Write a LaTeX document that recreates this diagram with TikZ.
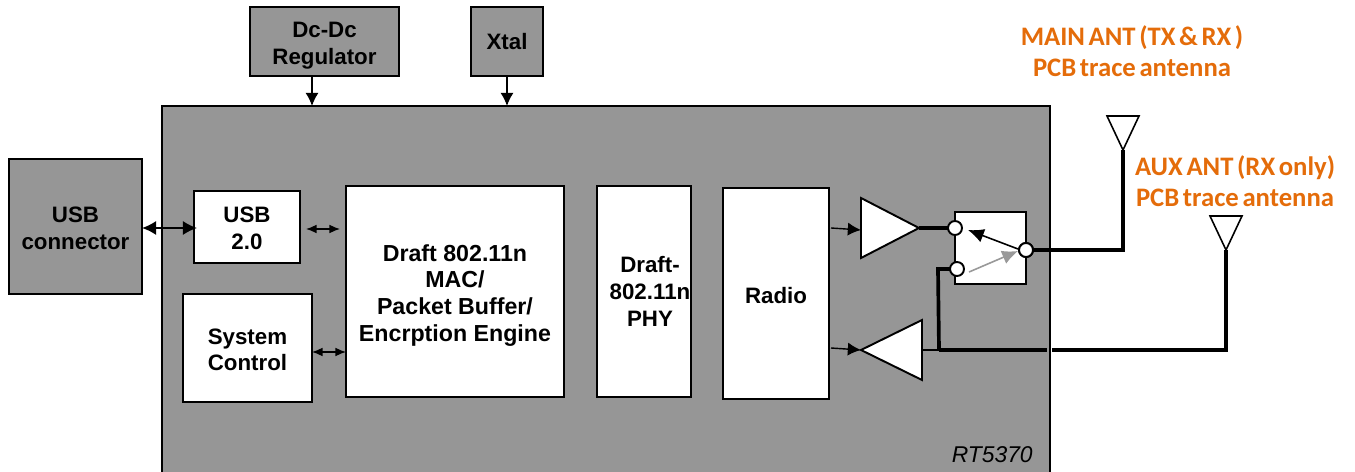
\documentclass[tikz,border=0pt]{standalone}
\usepackage{fontspec}
\usepackage{xcolor}
\setmainfont{Liberation Sans}
\newfontfamily\antfont[WordSpace=0.6]{Carlito}
\usetikzlibrary{shapes.geometric, arrows.meta}
\definecolor{chipgray}{HTML}{969696}
\definecolor{antorange}{HTML}{E46C0A}
\newcommand{\lowr}[1]{\rule{0pt}{#1}}
\tikzset{
    block/.style={draw, line width=1.1pt, fill=white, anchor=north west, align=center, inner sep=0pt, outer sep=0pt,
        font=\fontsize{12.7}{15.2}\selectfont\bfseries},
    grayblock/.style={block, fill=chipgray},
    amp/.style={draw, line width=1.1pt, fill=white, isosceles triangle, isosceles triangle stretches, inner sep=0pt, outer sep=0pt, minimum width=1.2cm, minimum height=1.16cm},
    ant/.style={draw, line width=0.9pt, fill=white, isosceles triangle, isosceles triangle stretches, shape border rotate=-90, inner sep=0pt, outer sep=0pt, minimum width=0.64cm, minimum height=0.68cm},
    port/.style={circle, draw, line width=1.1pt, fill=white, inner sep=0pt, outer sep=0pt, minimum size=0.28cm},
    trace/.style={line width=2.1pt},
    antlabel/.style={text=antorange, align=center, font=\antfont\fontsize{15.2}{17.4}\selectfont\bfseries},
    sig/.style={line width=0.8pt, -{Latex[length=7.5pt,width=7.5pt]}},
    bus/.style={line width=0.8pt, {Latex[length=6pt,width=5pt]}-{Latex[length=6pt,width=5pt]}}
}
\begin{document}
\begin{tikzpicture}[x=0.02cm, y=-0.02cm]
\useasboundingbox (0,0) rectangle (1355,472);

% Chip outline
\node[fill=chipgray, anchor=north west, inner sep=0pt, outer sep=0pt, minimum width=17.76cm, minimum height=7.32cm] (chip) at (162,106) {};
\draw[line width=1.1pt] (chip.south west) |- (chip.north east) -- (chip.south east);
\node[anchor=east, inner sep=0pt, font=\fontsize{13}{14}\selectfont\itshape] (chipname) at (1033,455) {RT5370};

% Outside blocks
\node[grayblock, minimum width=2.66cm, minimum height=2.7cm] (usbconn) at (9,159) {\lowr{11pt}USB\\connector};
\node[grayblock, minimum width=2.98cm, minimum height=1.38cm] (regulator) at (250,7) {\lowr{13.5pt}Dc-Dc\\Regulator};
\node[grayblock, minimum width=1.44cm, minimum height=1.38cm] (xtal) at (471,7) {Xtal};

% Inside blocks
\node[block, minimum width=2.12cm, minimum height=1.44cm] (usbcore) at (194,191) {\lowr{10.5pt}USB\\2.0};
\node[block, minimum width=2.58cm, minimum height=2.16cm] (sysctrl) at (183,294) {\lowr{11pt}System\\Control};
\node[block, minimum width=4.36cm, minimum height=4.22cm, font=\fontsize{13.2}{15.2}\selectfont\bfseries] (mac) at (346,186) {\lowr{14pt}Draft 802.11n\\MAC/\\Packet Buffer/\\Encrption Engine};
\node[block, minimum width=1.88cm, minimum height=4.22cm] (phy) at (597,186) {\hspace*{0.24cm}Draft-\\\hspace*{0.24cm}802.11n\\\hspace*{0.24cm}PHY};
\node[block, minimum width=2.12cm, minimum height=4.22cm] (radio) at (723,188) {\lowr{11pt}Radio};

% Amplifiers
\node[amp, anchor=apex] (txamp) at (919,228) {};
\node[amp, anchor=apex, minimum height=1.22cm, shape border rotate=180] (rxamp) at (861,350) {};

% Switch
\node[draw, line width=1.1pt, fill=white, anchor=north west, inner sep=0pt, outer sep=0pt, minimum width=1.42cm, minimum height=1.44cm] (switch) at (955,212) {};
\node[port] (swtx) at (955,228) {};
\node[port] (swrx) at (957,269) {};
\node[port] (swant) at (1026,250) {};

% Antennas
\node[ant, anchor=apex] (mainant) at (1123,150) {};
\node[ant, anchor=apex] (auxant) at (1226,250) {};
\node[antlabel] (mainlabel) at (1132,51) {MAIN ANT (TX \& RX )\\PCB trace antenna};
\node[antlabel] (auxlabel) at (1235,181) {AUX ANT (RX only)\\PCB trace antenna};

% Free ends
\coordinate (usbl) at (142,228);
\coordinate (usbr) at (197,228);
\coordinate (macl1) at (340,229);
\coordinate (usbo) at (306,229);
\coordinate (regin) at (312,106);
\coordinate (xtalin) at (507,106);
\coordinate (radtx) at (831,228);
\coordinate (radrx) at (831,348);
\coordinate (armtx) at (968,230);
\coordinate (armfrom) at (1018,249);
\coordinate (armfromrx) at (969,272);
\coordinate (armrx) at (1018,251);
\coordinate (junction) at (939,350);
\coordinate (gapl) at (1047,350);
\coordinate (gapr) at (1052,350);

% Supply and clock
\draw[sig] (regulator.south -| regin) -- (regin);
\draw[sig] (xtal.south -| xtalin) -- (xtalin);

% Buses
\draw[line width=1pt, {Latex[length=8pt,width=8pt]}-{Latex[length=8pt,width=8pt]}] (usbl) -- (usbr);
\draw[bus] (usbo) -- (macl1);
\draw[bus] (sysctrl.east |- 0,352) -- (mac.west |- 0,352);

% Radio paths
\draw[sig] (radtx) -- (txamp.west |- 0,230);
\draw[sig] (radrx) -- (rxamp.apex);
\draw[trace] (txamp.apex) -- (swtx);
\draw[trace] (swrx) -- (938,269) -- (junction);
\draw[line width=1.1pt] (rxamp.east) -- (junction);
\draw[trace] (junction) -- (gapl);
\draw[line width=1.8pt] (gapr) -| (auxant.apex);
\draw[line width=1.8pt] (swant) -| (mainant.apex);
\draw[trace] (swant) -- (1095,250);

% Switch arms
\draw[line width=0.9pt, -{Latex[length=9pt,width=8pt]}] (armfrom) -- (armtx);
\draw[line width=0.9pt, gray!80, -{Latex[length=9pt,width=8pt]}] (armfromrx) -- (armrx);
\node[port] at (swant) {};

\end{tikzpicture}
\end{document}
